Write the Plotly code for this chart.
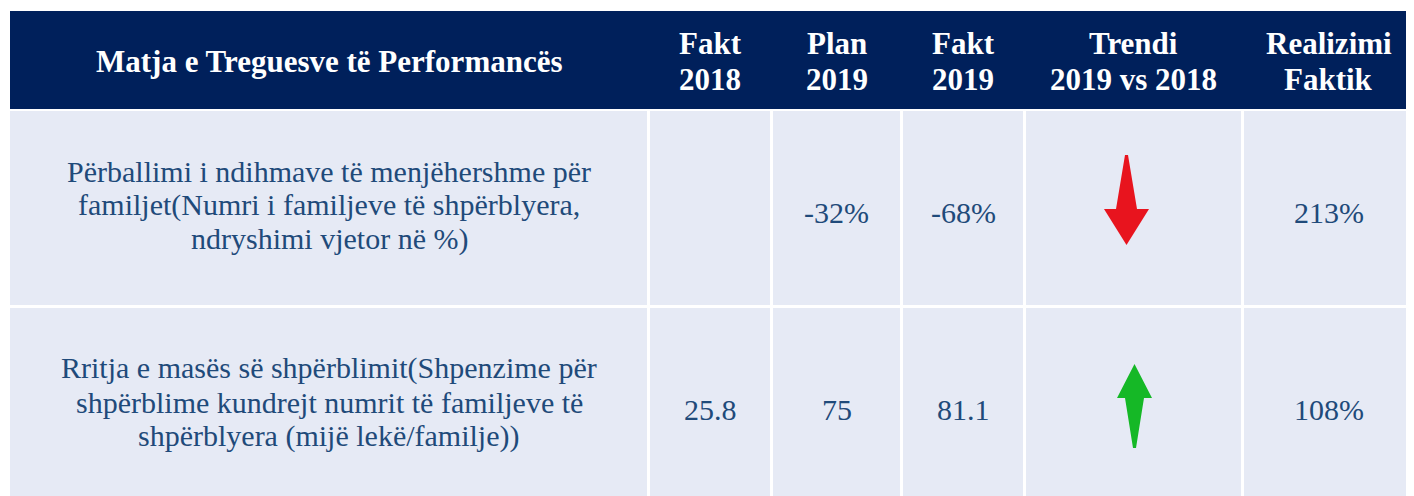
import plotly.graph_objects as go

# ---------------- data ----------------
headers = ["Matja e Treguesve të Performancës", "Fakt<br>2018", "Plan<br>2019",
           "Fakt<br>2019", "Trendi<br>2019 vs 2018", "Realizimi<br>Faktik"]
indicators = [
    "Përballimi i ndihmave të menjëhershme për<br>familjet(Numri i familjeve të shpërblyera,<br>ndryshimi vjetor në %)",
    "Rritja e masës së shpërblimit(Shpenzime për<br>shpërblime kundrejt numrit të familjeve të<br>shpërblyera (mijë lekë/familje))",
]
units = ["%", ""]
fakt_2018 = [None, 25.8]
plan_2019 = [-32, 75]
fakt_2019 = [-68, 81.1]
trend = ["down", "up"]
realizimi = [213, 108]

# ---------------- layout constants ----------------
W, H = 1414, 496
PAGE_MARGIN = 8  # browser body margin
x_start = 10
col_widths = [638.5, 123, 130, 123, 218, 172]
gap = 3
header_top, header_bottom = 11, 109
body_top = 111
row_pitch = 197
row_h = 194

HEADER_BG = "#00205B"
CELL_BG = "#E6EAF5"
TEXT = "#1F4A7A"
FONT = "Times, Tinos, Liberation Serif, serif"
BODY_SIZE = 30
HEAD_SIZE = 31
BODY_LS = 34
HEAD_LS = 36

bounds = [x_start]
for w in col_widths:
    bounds.append(bounds[-1] + w)

fig = go.Figure()
shapes = []
annotations = []


def add_text(text, cx, cy, size, color, bold, ls):
    lines = text.split("<br>")
    n = len(lines)
    for i, ln in enumerate(lines):
        y = cy + (i - (n - 1) / 2) * ls
        annotations.append(dict(
            x=cx, y=y, xref="x", yref="y", text=(f"<b>{ln}</b>" if bold else ln),
            showarrow=False, xanchor="center", yanchor="middle",
            font=dict(family=FONT, size=size, color=color)))


# header
shapes.append(dict(type="rect", xref="x", yref="y", x0=x_start, x1=W + 2,
                   y0=header_top, y1=header_bottom, fillcolor=HEADER_BG, line=dict(width=0),
                   layer="below"))
hc = (header_top + header_bottom) / 2
for c, h in enumerate(headers):
    cx = (bounds[c] + bounds[c + 1]) / 2
    add_text(h, cx, hc + 1, HEAD_SIZE, "white", True, HEAD_LS)


def fmt(v, u):
    if v is None:
        return ""
    return f"{v:g}{u}"


arrow_shapes = {
    "down": dict(color="#E8141E", dx=-7, dy=-8,
                 pts=[(-1.5, -45), (1.5, -45), (10.5, 9), (22.5, 9), (0, 45),
                      (-22.5, 9), (-10.5, 9)]),
    "up": dict(color="#15B826", dx=1, dy=1,
               pts=[(0, -42), (17.5, -8), (9.5, -8), (1.5, 42), (-1.5, 42),
                    (-9.5, -8), (-17.5, -8)]),
}

for r in range(len(indicators)):
    y0 = body_top + r * row_pitch
    y1 = y0 + row_h
    cy = (y0 + y1) / 2
    for c in range(len(col_widths)):
        x0 = bounds[c] + (gap / 2 if c > 0 else 0)
        x1 = bounds[c + 1] - gap / 2
        shapes.append(dict(type="rect", xref="x", yref="y", x0=x0, x1=x1, y0=y0, y1=y1,
                           fillcolor=CELL_BG, line=dict(width=0), layer="below"))
    # indicator text
    add_text(indicators[r], (bounds[0] + bounds[1]) / 2, cy - 3, BODY_SIZE, TEXT, False, BODY_LS)
    vals = [None, fmt(fakt_2018[r], units[r]), fmt(plan_2019[r], units[r]),
            fmt(fakt_2019[r], units[r]), None, fmt(realizimi[r], "%")]
    for c, v in enumerate(vals):
        if not v:
            continue
        cx = (bounds[c] + bounds[c + 1]) / 2
        add_text(v, cx, cy + 4, BODY_SIZE, TEXT, False, BODY_LS)
    # trend arrow
    a = arrow_shapes[trend[r]]
    cx = (bounds[4] + bounds[5]) / 2 + a["dx"]
    acy = cy + a["dy"]
    xs = [cx + p[0] for p in a["pts"]] + [cx + a["pts"][0][0]]
    ys = [acy + p[1] for p in a["pts"]] + [acy + a["pts"][0][1]]
    fig.add_trace(go.Scatter(x=xs, y=ys, mode="lines", fill="toself",
                             fillcolor=a["color"], line=dict(width=0, color=a["color"]),
                             hoverinfo="skip", showlegend=False))

# the page's body margin offsets the figure; compensate so the table sits at page pixels
fig.update_layout(
    width=W - PAGE_MARGIN, height=H - PAGE_MARGIN, margin=dict(l=0, r=0, t=0, b=0),
    paper_bgcolor="white", plot_bgcolor="white",
    xaxis=dict(range=[PAGE_MARGIN, W], visible=False, fixedrange=True),
    yaxis=dict(range=[H, PAGE_MARGIN], visible=False, fixedrange=True),
    shapes=shapes, annotations=annotations, showlegend=False,
)

fig.write_html("out.html")
